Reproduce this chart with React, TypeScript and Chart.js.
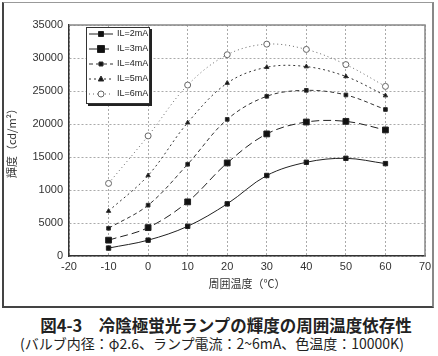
import React, { useEffect, useRef } from "react";
import { Chart, registerables } from "chart.js";

Chart.register(...registerables);

// ---- data ----
const temps = [-10, 0, 10, 20, 30, 40, 50, 60];
const seriesLabels = ["IL=2mA", "IL=3mA", "IL=4mA", "IL=5mA", "IL=6mA"];
const l2mA = [1200, 2400, 4500, 7900, 12200, 14200, 14800, 14000];
const l3mA = [2400, 4300, 8200, 14100, 18500, 20300, 20400, 19100];
const l4mA = [4200, 7700, 13900, 20700, 24200, 25100, 24400, 22200];
const l5mA = [6800, 12200, 20200, 26200, 28600, 28700, 27200, 24300];
const l6mA = [11000, 18200, 25900, 30500, 32100, 31300, 29000, 25700];
const yTickLabels = ["0", "5000", "1000", "15000", "20000", "25000", "30000", "35000"];
const xTickLabels = ["-20", "-10", "0", "10", "20", "30", "40", "50", "60", "70"];
const xTitle = "周囲温度（℃）";
const yTitle = "輝度（cd/m²）";
const caption1 = "図4-3　冷陰極蛍光ランプの輝度の周囲温度依存性";
const caption2 = "(バルブ内径：φ2.6、ランプ電流：2~6mA、色温度：10000K)";

const allSeries = [l2mA, l3mA, l4mA, l5mA, l6mA];

const styles = [
  { dash: [], shape: "rect", r: 2.5, color: "#222", fill: "#111" },
  { dash: [8, 4], shape: "rect", r: 3.5, color: "#222", fill: "#111" },
  { dash: [4, 3], shape: "rect", r: 2, color: "#333", fill: "#111" },
  { dash: [2, 3], shape: "triangle", r: 2.5, color: "#333", fill: "#111" },
  { dash: [1, 3], shape: "circle", r: 3, color: "#666", fill: "#fff" },
];

function drawMarker(ctx: CanvasRenderingContext2D, shape: string, x: number, y: number, r: number, fill: string, stroke: string) {
  ctx.save();
  ctx.setLineDash([]);
  ctx.fillStyle = fill;
  ctx.strokeStyle = stroke;
  ctx.lineWidth = 1;
  ctx.beginPath();
  if (shape === "rect") {
    ctx.rect(x - r, y - r, 2 * r, 2 * r);
  } else if (shape === "triangle") {
    ctx.moveTo(x, y - r * 1.2);
    ctx.lineTo(x + r * 1.1, y + r * 0.8);
    ctx.lineTo(x - r * 1.1, y + r * 0.8);
    ctx.closePath();
  } else {
    ctx.arc(x, y, r, 0, Math.PI * 2);
  }
  ctx.fill();
  ctx.stroke();
  ctx.restore();
}

const insideLegend = {
  id: "insideLegend",
  afterDatasetsDraw(chart: any) {
    const { ctx, chartArea } = chart;
    // plot frame top/right
    ctx.save();
    ctx.strokeStyle = "#888";
    ctx.lineWidth = 1.5;
    ctx.beginPath();
    ctx.moveTo(chartArea.left, chartArea.top);
    ctx.lineTo(chartArea.right, chartArea.top);
    ctx.lineTo(chartArea.right, chartArea.bottom);
    ctx.stroke();
    ctx.restore();

    const x0 = chartArea.left + 17;
    const y0 = chartArea.top + 2;
    const w = 64;
    const h = 77;
    ctx.save();
    ctx.fillStyle = "#222";
    ctx.fillRect(x0 + 2, y0 + 2, w, h);
    ctx.fillStyle = "#fff";
    ctx.fillRect(x0, y0, w, h);
    ctx.strokeStyle = "#333";
    ctx.lineWidth = 1;
    ctx.strokeRect(x0 + 0.5, y0 + 0.5, w - 1, h - 1);
    chart.data.datasets.forEach((ds: any, i: number) => {
      const st = styles[i];
      const y = y0 + 7 + i * 15;
      ctx.setLineDash(st.dash);
      ctx.strokeStyle = st.color;
      ctx.lineWidth = 1;
      ctx.beginPath();
      ctx.moveTo(x0 + 3, y);
      ctx.lineTo(x0 + 27, y);
      ctx.stroke();
      ctx.setLineDash([]);
      drawMarker(ctx, st.shape, x0 + 15, y, st.r, st.fill, st.color);
      ctx.fillStyle = "#222";
      ctx.font = "9px 'Liberation Sans'";
      ctx.textBaseline = "middle";
      ctx.textAlign = "left";
      ctx.fillText(ds.label, x0 + 31, y);
    });
    ctx.restore();
  },
};

export default function App() {
  const ref = useRef<HTMLCanvasElement | null>(null);
  useEffect(() => {
    if (!ref.current) return;
    const tickFont = { family: "'Liberation Sans', Arial, sans-serif", size: 11 };
    const chart = new Chart(ref.current, {
      type: "line",
      data: {
        datasets: allSeries.map((arr, i) => ({
          label: seriesLabels[i],
          data: arr.map((v, j) => ({ x: temps[j], y: v })),
          borderColor: styles[i].color,
          backgroundColor: styles[i].fill,
          borderWidth: 1,
          borderDash: styles[i].dash,
          pointStyle: styles[i].shape,
          pointRadius: styles[i].r + (styles[i].shape === "rect" ? 0.6 : 0),
          pointBorderColor: styles[i].color,
          pointBackgroundColor: styles[i].fill,
          pointBorderWidth: 1,
          tension: 0.35,
          fill: false,
        })),
      },
      options: {
        animation: false,
        responsive: false,
        layout: { padding: { left: 4, top: 25, right: 13, bottom: 22 } },
        plugins: {
          legend: { display: false },
          tooltip: { enabled: false },
          title: { display: false },
        },
        scales: {
          x: {
            type: "linear",
            min: -20,
            max: 70,
            ticks: {
              stepSize: 10,
              padding: 4,
              font: tickFont,
              color: "#333",
              maxRotation: 0,
              callback: (_v: any, i: number) => xTickLabels[i],
            },
            grid: { color: "#aaa", drawTicks: false },
            border: { color: "#333", width: 1.5, dash: [2, 2] },
            title: {
              display: true,
              text: xTitle,
              font: { family: "'Noto Sans CJK JP'", size: 11 },
              color: "#333",
              padding: { top: 2, bottom: 0 },
            },
            afterFit: (s: any) => {
              s.height = 34;
            },
          },
          y: {
            min: 0,
            max: 35000,
            ticks: {
              stepSize: 5000,
              padding: 6,
              font: tickFont,
              color: "#333",
              callback: (_v: any, i: number) => yTickLabels[i],
            },
            grid: { color: "#aaa", drawTicks: false },
            border: { color: "#333", width: 1.5, dash: [2, 2] },
            title: {
              display: true,
              text: yTitle,
              font: { family: "'Noto Sans CJK JP'", size: 11 },
              color: "#333",
              padding: { top: 1, bottom: 0 },
            },
            afterFit: (s: any) => {
              s.width = 65;
            },
          },
        },
      } as any,
      plugins: [insideLegend],
    });
    return () => chart.destroy();
  }, []);

  return (
    <div style={{ position: "absolute", left: 0, top: 0, width: 438, height: 356, background: "#fff", overflow: "hidden" }}>
      <div
        style={{
          position: "absolute",
          left: 2,
          top: 2,
          width: 432,
          height: 306,
          boxSizing: "border-box",
          borderTop: "1px solid #999",
          borderRight: "2px solid #888",
          borderLeft: "2px solid #444",
          borderBottom: "2px solid #444",
        }}
      />
      <canvas ref={ref} width={438} height={312} style={{ position: "absolute", left: 0, top: 0, width: 438, height: 312 }} />
      <div
        style={{
          position: "absolute",
          left: 0,
          top: 315,
          width: 452,
          textAlign: "center",
          fontFamily: "'Noto Sans CJK JP'",
          fontWeight: 700,
          fontSize: 16.5,
          lineHeight: "20px",
          color: "#222",
          whiteSpace: "nowrap",
        }}
      >
        {caption1}
      </div>
      <div
        style={{
          position: "absolute",
          left: 0,
          top: 335,
          width: 424,
          textAlign: "center",
          fontFamily: "'Noto Sans CJK JP'",
          fontSize: 14,
          lineHeight: "16px",
          color: "#222",
          whiteSpace: "nowrap",
        }}
      >
        {caption2}
      </div>
    </div>
  );
}
